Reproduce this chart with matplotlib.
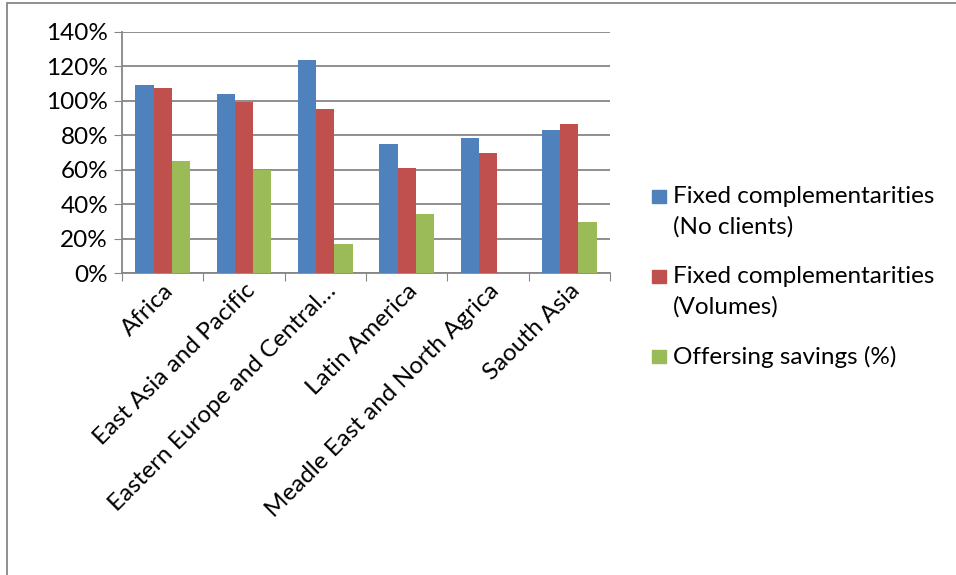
import numpy as np
import matplotlib.pyplot as plt
from matplotlib.patches import Rectangle
from matplotlib.ticker import FuncFormatter

plt.rcParams['font.family'] = ['Lato', 'DejaVu Sans']

# DATA
regions = [
    "Africa",
    "East Asia and Pacific",
    "Eastern Europe and Central\u2026",
    "Latin America",
    "Meadle East and North Agrica",
    "Saouth Asia",
]
fixed_no_clients = [109.5, 104.1, 123.5, 74.8, 78.4, 82.9]
fixed_volumes = [107.6, 99.2, 95.2, 60.8, 69.5, 86.6]
offering_savings = [64.9, 59.8, 16.7, 34.0, 0.0, 29.9]

series_names = [
    "Fixed complementarities\n(No clients)",
    "Fixed complementarities\n(Volumes)",
    "Offersing savings (%)",
]
colors = ["#4F81BD", "#C0504D", "#9BBB59"]

FS = 17.5
W, H = 956, 575

# FIGURE
fig = plt.figure(figsize=(W / 100, H / 100), dpi=100)
ax = fig.add_axes([122 / W, 1 - 273 / H, (610 - 122) / W, (273 - 32) / H])

x = np.arange(len(regions))
w = 0.225
for k, vals in enumerate([fixed_no_clients, fixed_volumes, offering_savings]):
    ax.bar(x + (k - 1) * w, vals, w, color=colors[k], label=series_names[k], zorder=3)

ax.set_ylim(0, 140)
ax.set_yticks(np.arange(0, 141, 20))
ax.yaxis.set_major_formatter(FuncFormatter(lambda v, p: f"{v:.0f}%"))
ax.set_xlim(-0.5, len(regions) - 0.5)
ax.set_xticks(np.arange(-0.5, len(regions), 1), minor=False)
ax.set_xticklabels([])
ax.set_xticks(x, minor=True)
ax.set_xticklabels(regions, minor=True, rotation=45, ha="right", rotation_mode="anchor",
                   fontsize=FS)
ax.tick_params(axis="x", which="minor", length=0, pad=5)
ax.tick_params(axis="x", which="major", length=6, color="#868686", direction="out")
ax.tick_params(axis="y", length=6, color="#868686", labelsize=FS, pad=4)

ax.grid(axis="y", color="#868686", linewidth=1.3, zorder=0)
for s in ["top", "right"]:
    ax.spines[s].set_visible(False)
for s in ["left", "bottom"]:
    ax.spines[s].set_color("#868686")
    ax.spines[s].set_linewidth(1.3)

# legend, Excel style: marker aligned with first text line
for k, name in enumerate(series_names):
    yc = 196 + 80 * k
    fig.patches.append(Rectangle((652 / W, 1 - (yc + 6.5) / H), 14 / W, 13 / H,
                                 transform=fig.transFigure, color=colors[k]))
    fig.text(673 / W, 1 - (yc - 10) / H, name, fontsize=FS, va="top", ha="left",
             linespacing=1.5)

# outer chart border
fig.patches.append(Rectangle((7 / W, -0.01), 1.1, 1 - 3 / H + 0.01, transform=fig.transFigure,
                             fill=False, edgecolor="#868686", linewidth=1.3))

fig.savefig("out.png", dpi=100)
